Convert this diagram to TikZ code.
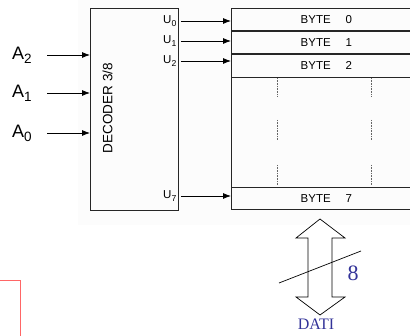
\documentclass[tikz,border=0pt]{standalone}
\usepackage{fontspec}
\setmainfont{Liberation Serif}
\setsansfont{Liberation Sans}
\usepackage{xcolor}
\usepackage{tikz}
\usetikzlibrary{arrows.meta,positioning}

\definecolor{datiblue}{RGB}{51,51,153}
\newcommand{\lowidx}[1]{\raisebox{-0.4ex}{\fontsize{0.75em}{0.75em}\selectfont #1}}

\begin{document}
\begin{tikzpicture}[
    x=1pt, y=-1pt,
    decbox/.style={rectangle, draw=black!85, line width=0.8pt, inner sep=0pt, anchor=north west},
    rowbox/.style={rectangle, draw=black!85, line width=0.8pt, inner sep=0pt, anchor=north west, minimum width=190pt, minimum height=22.33pt, font=\sffamily\fontsize{11.5}{11.5}\selectfont},
    inlabel/.style={font=\sffamily\fontsize{18}{18}\selectfont, inner sep=0pt, anchor=west},
    outlabel/.style={font=\sffamily\fontsize{11.5}{11.5}\selectfont, inner sep=0pt, anchor=east},
    sig/.style={-{Latex[length=8pt,width=6pt]}, line width=0.8pt, draw=black},
    busarrow/.style={draw=black, line width=0.7pt, fill=white}
]
\useasboundingbox (0,0) rectangle (410,336);
\fill[black!1] (78,0) rectangle (410,225);
\draw[red!60, line width=1pt] (-5,281) -| (20,340);

% Nodes
\node[decbox, minimum width=88pt, minimum height=202pt] (dec) at (90,8) {};
\node[font=\sffamily\fontsize{13.5}{13.5}\selectfont, rotate=90] (dectxt) at (107.5,108) {DECODER 3/8};

\node[inlabel] (a2) at (12,55) {A\lowidx{2}};
\node[inlabel] (a1) at (12,93) {A\lowidx{1}};
\node[inlabel] (a0) at (12,133) {A\lowidx{0}};

\node[rowbox] (byte0) at (231,8) {BYTE\hspace{15pt}0};
\node[rowbox, below=0pt of byte0] (byte1) {BYTE\hspace{15pt}1};
\node[rowbox, below=0pt of byte1] (byte2) {BYTE\hspace{15pt}2};
\node[rowbox, anchor=south west] (byte7) at (231,210) {BYTE\hspace{15pt}7};

\node[outlabel] (u0) at (176.5,21) {U\lowidx{0}};
\node[outlabel] (u1) at (176.5,41) {U\lowidx{1}};
\node[outlabel] (u2) at (176.5,61) {U\lowidx{2}};
\node[outlabel] (u7) at (176.5,196) {U\lowidx{7}};

% Edges
\draw[sig] (47,0 |- a2) -- (a2 -| dec.west);
\draw[sig] (47,0 |- a1) -- (a1 -| dec.west);
\draw[sig] (47,0 |- a0) -- (a0 -| dec.west);

\draw[sig, shorten <=2pt] (dec.east |- u0) -- (byte0.west |- u0);
\draw[sig, shorten <=2pt] (dec.east |- u1) -- (byte1.west |- u1);
\draw[sig, shorten <=2pt] (dec.east |- u2) -- (byte2.west |- u2);
\draw[sig, shorten <=2pt] (dec.east |- u7) -- (byte7.west |- u7);

% middle of the memory
\draw[black!85, line width=0.8pt] (byte2.south west) -- (byte7.north west);
\foreach \xx in {277,371}
  \foreach \ya/\yb in {78/97,120/140,165/185}
    \draw[black!60, densely dotted, line width=0.6pt] (\xx,\ya) -- (\xx,\yb);

% data bus
\draw[busarrow] (320,219) -- (345,238) -- (332,238) -- (332,297) -- (345,297) -- (320,315)
  -- (296,297) -- (308,297) -- (308,238) -- (296,238) -- cycle;
\coordinate (slashA) at (279,283);
\coordinate (slashB) at (361,251);
\draw[black, line width=0.7pt] (slashA) -- (slashB);
\node[font=\fontsize{22}{22}\selectfont, text=datiblue, inner sep=0pt] (nbit) at (353,273) {8};
\node[font=\fontsize{16}{16}\selectfont, text=datiblue, inner sep=0pt] (dati) at (316,324) {DATI};

\end{tikzpicture}
\end{document}
